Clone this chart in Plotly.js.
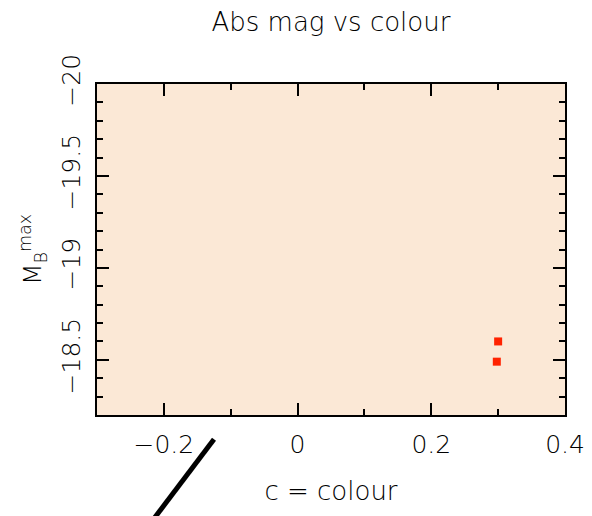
<!DOCTYPE html>
<html>
<head>
<meta charset="utf-8">
<script src="https://cdn.plot.ly/plotly-3.0.1.min.js"></script>
<style>html,body{margin:0;padding:0;background:#fff}#chart{width:592px;height:516px}</style>
</head>
<body>
<div id="chart"></div>
<script>
// Data
var colour = [0.300, 0.298];
var absMag = [-18.60, -18.49];
var xTickVals = [-0.2, 0, 0.2, 0.4];
var yTickVals = [-20, -19.5, -19, -18.5];
var yTickText = ['\u221220', '\u221219.5', '\u221219', '\u221218.5'];
var xTickText = ['\u22120.2', '0', '0.2', '0.4'];

var FONT = '"DejaVu Sans", "Liberation Sans", sans-serif';

var trace = {
  x: colour,
  y: absMag,
  type: 'scatter',
  mode: 'markers',
  marker: {symbol: 'square', size: 8, color: '#ff2200', line: {width: 0}},
  cliponaxis: false,
  hoverinfo: 'none'
};

var axisCommon = {
  showgrid: false,
  zeroline: false,
  showline: true,
  linecolor: '#000',
  linewidth: 2,
  mirror: 'ticks',
  ticks: 'inside',
  ticklen: 12,
  tickwidth: 2,
  tickcolor: '#000',
  tickfont: {family: FONT, size: 25, color: '#000', weight: 200}
};

var layout = {
  width: 592,
  height: 516,
  margin: {l: 97, r: 27, t: 84, b: 101},
  paper_bgcolor: '#ffffff',
  plot_bgcolor: '#fbe8d6',
  showlegend: false,
  title: {
    text: 'Abs mag vs colour',
    font: {family: FONT, size: 26, color: '#000', weight: 200},
    x: 0.559, xanchor: 'center', y: 0.958, yanchor: 'middle'
  },
  xaxis: Object.assign({}, axisCommon, {
    range: [-0.3, 0.4],
    tickmode: 'array',
    tickvals: xTickVals,
    ticktext: xTickText,
    ticklabelstandoff: 6,
    minor: {dtick: 0.1, tick0: 0, ticks: 'inside', ticklen: 6, tickwidth: 2, tickcolor: '#000'},
    title: {text: 'c = colour', font: {family: FONT, size: 26, color: '#000', weight: 200}, standoff: 24}
  }),
  yaxis: Object.assign({}, axisCommon, {
    range: [-18.2, -20],
    tickmode: 'array',
    tickvals: yTickVals,
    ticktext: yTickText,
    tickangle: -90,
    ticklabelstandoff: 5,
    minor: {dtick: 0.1, tick0: -20, ticks: 'inside', ticklen: 6, tickwidth: 2, tickcolor: '#000'},
    title: {text: 'M<sub>B</sub><sup>max</sup>', font: {family: FONT, size: 25, color: '#000', weight: 200}, standoff: 8}
  }),
  shapes: [{
    type: 'line', xref: 'paper', yref: 'paper',
    x0: 0.25, y0: -0.073, x1: 0.118, y1: -0.32,
    line: {color: '#000', width: 5}
  }]
};

Plotly.newPlot('chart', [trace], layout, {displayModeBar: false, staticPlot: true});
</script>
</body>
</html>
